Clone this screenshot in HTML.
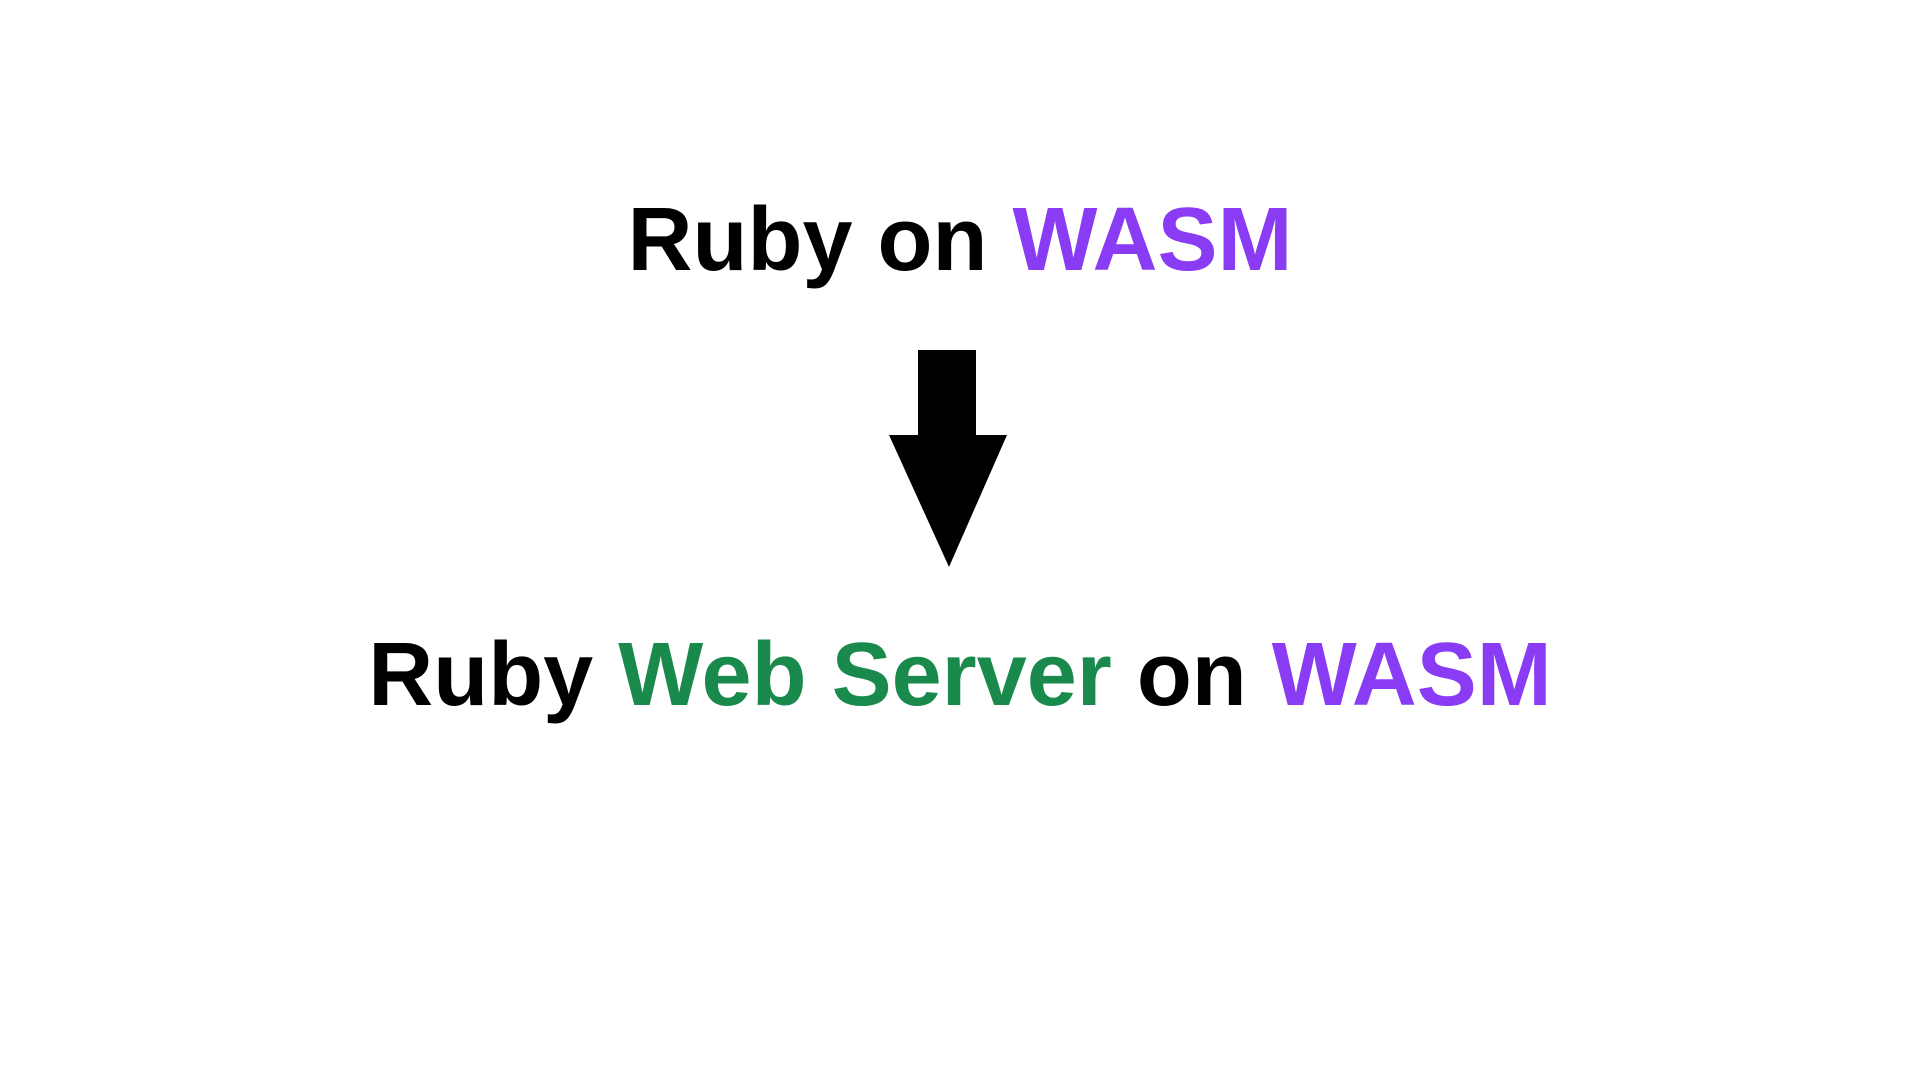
<!DOCTYPE html>
<html><head><meta charset="utf-8"><style>
html,body{margin:0;padding:0;background:#fff;width:1920px;height:1080px;overflow:hidden}
.t{position:absolute;left:0;width:1920px;text-align:center;font-family:"Liberation Sans",sans-serif;font-weight:bold;font-size:90px;line-height:1;color:#000;white-space:nowrap}
.p{color:#8a3cf5}.g{color:#1a8a4c}
</style></head><body>
<div class="t" style="top:195px">Ruby on <span class="p">WASM</span></div>
<svg style="position:absolute;left:0;top:0" width="1920" height="1080">
<rect x="918" y="350" width="58" height="88" fill="#000"/>
<polygon points="889,435 1007,435 949,567" fill="#000"/>
</svg>
<div class="t" style="top:630px">Ruby <span class="g">Web Server</span> on <span class="p">WASM</span></div>
</body></html>
